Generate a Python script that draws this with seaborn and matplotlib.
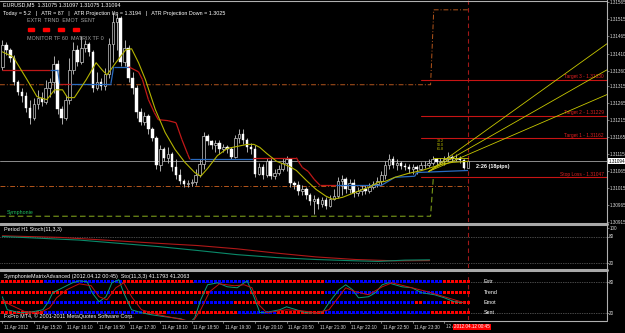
import matplotlib
matplotlib.use("Agg")
import matplotlib.pyplot as plt
import matplotlib.transforms as mtransforms
from matplotlib.patches import Rectangle
import numpy as np
import pandas as pd
import seaborn as sns

sns.set_theme(style="dark")
plt.rcParams['font.family'] = ['Liberation Sans Narrow', 'Liberation Sans', 'DejaVu Sans']

# ---------------- data ----------------
first_open = 1.31373
close = [1.31438, 1.31423, 1.31399, 1.31329, 1.31300, 1.31288, 1.31252, 1.31223, 1.31264, 1.31282,
         1.31270, 1.31311, 1.31329, 1.31382, 1.31247, 1.31223, 1.31276, 1.31364, 1.31423, 1.31388,
         1.31429, 1.31441, 1.31417, 1.31311, 1.31329, 1.31317, 1.31352, 1.31441, 1.31505, 1.31517,
         1.31388, 1.31429, 1.31341, 1.31311, 1.31241, 1.31211, 1.31229, 1.31188, 1.31164, 1.31082,
         1.31129, 1.31105, 1.31117, 1.31076, 1.31053, 1.31035, 1.31026, 1.31029, 1.31032, 1.31055,
         1.31085, 1.31170, 1.31153, 1.31141, 1.31147, 1.31129, 1.31135, 1.31129, 1.31108, 1.31164,
         1.31176, 1.31158, 1.31135, 1.31129, 1.31058, 1.31076, 1.31053, 1.31094, 1.31050, 1.31061,
         1.31070, 1.31088, 1.31100, 1.31029, 1.31023, 1.31006, 1.31011, 1.30994, 1.30976, 1.30982,
         1.30967, 1.30979, 1.30961, 1.30982, 1.30991, 1.31035, 1.31041, 1.31011, 1.31029, 1.31000,
         1.31006, 1.31011, 1.31006, 1.31017, 1.31026, 1.31035, 1.31053, 1.31082, 1.31100, 1.31082,
         1.31088, 1.31079, 1.31076, 1.31070, 1.31076, 1.31070, 1.31082, 1.31082, 1.31088, 1.31100,
         1.31091, 1.31094, 1.31100, 1.31108, 1.31100, 1.31105, 1.31097, 1.31075, 1.31094]
high = [1.31452, 1.31447, 1.31429, 1.31408, 1.31335, 1.31311, 1.31300, 1.31276, 1.31282, 1.31305,
        1.31300, 1.31335, 1.31341, 1.31405, 1.31394, 1.31258, 1.31291, 1.31399, 1.31447, 1.31438,
        1.31464, 1.31452, 1.31447, 1.31423, 1.31358, 1.31341, 1.31370, 1.31458, 1.31535, 1.31529,
        1.31523, 1.31452, 1.31438, 1.31358, 1.31320, 1.31252, 1.31241, 1.31235, 1.31194, 1.31170,
        1.31141, 1.31135, 1.31135, 1.31123, 1.31100, 1.31070, 1.31041, 1.31038, 1.31041, 1.31070,
        1.31100, 1.31182, 1.31176, 1.31158, 1.31158, 1.31158, 1.31144, 1.31141, 1.31135, 1.31173,
        1.31188, 1.31188, 1.31164, 1.31147, 1.31141, 1.31088, 1.31085, 1.31105, 1.31105, 1.31070,
        1.31082, 1.31105, 1.31111, 1.31100, 1.31035, 1.31035, 1.31023, 1.31017, 1.31000, 1.30994,
        1.30988, 1.30988, 1.30988, 1.30994, 1.31011, 1.31047, 1.31053, 1.31047, 1.31041, 1.31041,
        1.31017, 1.31023, 1.31023, 1.31029, 1.31035, 1.31047, 1.31064, 1.31094, 1.31117, 1.31111,
        1.31100, 1.31094, 1.31088, 1.31085, 1.31085, 1.31082, 1.31091, 1.31094, 1.31100, 1.31111,
        1.31105, 1.31103, 1.31111, 1.31123, 1.31114, 1.31117, 1.31111, 1.31100, 1.31097]
low = [1.31364, 1.31408, 1.31388, 1.31320, 1.31291, 1.31270, 1.31241, 1.31205, 1.31217, 1.31247,
       1.31258, 1.31264, 1.31285, 1.31297, 1.31235, 1.31205, 1.31217, 1.31264, 1.31352, 1.31376,
       1.31382, 1.31417, 1.31405, 1.31300, 1.31305, 1.31305, 1.31305, 1.31341, 1.31388, 1.31423,
       1.31376, 1.31376, 1.31329, 1.31294, 1.31223, 1.31200, 1.31200, 1.31176, 1.31153, 1.31070,
       1.31064, 1.31094, 1.31088, 1.31064, 1.31041, 1.31026, 1.31017, 1.31017, 1.31020, 1.31023,
       1.31047, 1.31070, 1.31141, 1.31129, 1.31123, 1.31117, 1.31123, 1.31120, 1.31100, 1.31105,
       1.31147, 1.31144, 1.31123, 1.31117, 1.31047, 1.31053, 1.31041, 1.31047, 1.31041, 1.31041,
       1.31053, 1.31064, 1.31064, 1.31017, 1.31011, 1.30994, 1.30994, 1.30982, 1.30964, 1.30938,
       1.30953, 1.30958, 1.30953, 1.30958, 1.30979, 1.30985, 1.30994, 1.31000, 1.31000, 1.30988,
       1.30991, 1.30994, 1.30997, 1.31000, 1.31011, 1.31017, 1.31023, 1.31041, 1.31070, 1.31073,
       1.31067, 1.31070, 1.31067, 1.31061, 1.31058, 1.31058, 1.31067, 1.31073, 1.31076, 1.31082,
       1.31082, 1.31085, 1.31082, 1.31094, 1.31091, 1.31094, 1.31088, 1.31070, 1.31075]

# moving average (yellow)
ma_idx = [0, 2.75, 6.25, 8.75, 11.25, 13.25, 15.25, 16.5, 18.25, 21.25, 23.75, 25.25, 26.5, 28.75,
          31.25, 32.75, 34.5, 36.25, 38.75, 41.25, 43.75, 46.25, 48.75, 50.25, 52, 54.5, 57, 59.5,
          62, 63.75, 65.25, 67, 69.5, 72.75, 74.5, 77, 79.5, 82, 83.75, 86.25, 89.5, 92.75, 95.25,
          97, 99.5, 102.75, 106.25, 108.75, 111.25, 114, 118]
ma_val = [1.31417, 1.31402, 1.31335, 1.31285, 1.31276, 1.31305, 1.31305, 1.31282, 1.31282, 1.31335,
          1.31385, 1.31364, 1.31349, 1.31385, 1.31423, 1.31426, 1.31385, 1.31335, 1.31247, 1.31179,
          1.31129, 1.31091, 1.31061, 1.31050, 1.31073, 1.31111, 1.31132, 1.31138, 1.31144, 1.31144,
          1.31135, 1.31117, 1.31094, 1.31079, 1.31067, 1.31038, 1.31011, 1.30991, 1.30982, 1.30988,
          1.31003, 1.31017, 1.31032, 1.31035, 1.31047, 1.31058, 1.31067, 1.31076, 1.31085, 1.31091,
          1.31094]

# trailing line (red above price / blue below price)
trail_idx = [0, 12, 14, 14.5, 17.5, 27.5, 28.2, 32, 34.5, 35.5, 37, 38.5, 39.5, 42, 44, 45.5, 47,
             47.5, 63.5, 63.5, 74.5, 75, 76, 77.5, 79, 80.5, 84.5, 96, 99.5, 104.5, 105, 118]
trail_val = [1.31364, 1.31364, 1.31364, 1.31323, 1.31323, 1.31323, 1.31373, 1.31373, 1.31358,
             1.31335, 1.31276, 1.31238, 1.31217, 1.31214, 1.31208, 1.31158, 1.31114, 1.31100,
             1.31100, 1.31105, 1.31105, 1.31094, 1.31076, 1.31064, 1.31041, 1.31023, 1.31023,
             1.31023, 1.31047, 1.31050, 1.31061, 1.31067]
trail_col = "rbbrbbbrrrrrrrrrrbrrrrrrrrbbbbb"

bid = 1.31094
atr_up_1, atr_up_2, atr_down = 1.31320, 1.31541, 1.31020
sym_low, sym_stop = 1.30932, 1.31047
targets = [("Target 3 - 1.31330", 1.31335), ("Target 2 - 1.31229", 1.31229),
           ("Target 1 - 1.31162", 1.31162), ("Stop Loss - 1.31047", 1.31047)]
fan_origin = (108, 1.31064)
fan_end_vals = [1.31441, 1.31364, 1.31291]
last_bar = 118
price_ticks = [1.31565, 1.31515, 1.31465, 1.31410, 1.31360, 1.31315, 1.31265, 1.31215,
               1.31165, 1.31115, 1.31065, 1.31015, 1.30965, 1.30915]

# H1 stochastic
st_red_idx = [0, 14.5, 24.5, 39.5, 49.5, 59.5, 69.5, 79.5, 89.5, 99.5, 108.25]
st_red_val = [81.5, 78, 72.6, 64.4, 59.3, 51.8, 42, 33.3, 27.4, 24.4, 25]
st_grn_idx = [0, 9.5, 19.5, 29.5, 39.5, 49.5, 59.5, 69.5, 79.5, 89.5, 95.25, 102, 108.25]
st_grn_val = [80, 76, 71.8, 64.4, 57, 48, 38.5, 31.8, 27.4, 24.4, 23, 26, 26.7]

# Symphonie matrix oscillator
sy_grn_idx = [0, 1.25, 4.5, 7.75, 10.25, 11.5, 12.75, 15.25, 17.75, 19.5, 21.5, 22.75, 24.5, 26.25,
              27.75, 29.5, 30.75, 32.75, 35.25, 37.75, 41.25, 45.25, 47.5, 48.75, 50.25, 52, 54.5,
              57, 59.5, 61.25, 62, 63.75, 65.25, 67.75, 70.25, 72, 74.5, 77, 79.5, 81.25, 82.75,
              85.25, 87, 88.75, 90.25, 92.75, 94.5, 96.25, 97.75, 101.25, 103.75, 106.25, 109.5,
              112, 114.5, 117]
sy_grn_val = [51, 25.8, 20, 22, 25.8, 39.4, 58.7, 68.4, 78, 81.9, 80, 58.7, 41.3, 51, 78, 83.9,
              58.7, 25.8, 20, 16.2, 12.3, 8.4, 0.7, 10.4, 45.2, 74.2, 78, 70.3, 68.4, 78, 81.9, 51,
              20, 22, 25.8, 31.6, 25.8, 20, 20, 22, 39.4, 64.5, 74.2, 64.5, 49, 51, 58.7, 74.2, 78,
              70.3, 68.4, 58.7, 54.9, 49, 41.3, 39.4]
sy_red_idx = [0, 2, 5.75, 9.5, 12, 13.75, 16.25, 19.5, 22.5, 24.5, 26.5, 28.75, 30.75, 32.75,
              35.25, 39.5, 44.5, 48.25, 50.25, 52.5, 55, 58.75, 61.25, 63.25, 65, 67, 72, 75.75,
              79.5, 82.75, 87, 89.5, 92.75, 96.25, 98.75, 103.75, 107.75, 112, 117]
sy_red_val = [45.2, 35.5, 22, 20, 29.7, 49, 64.5, 76.1, 72.3, 51, 45.2, 68.4, 78, 51, 25.8, 16.2,
              8.4, 2.6, 25.8, 60.7, 76.1, 72.3, 74.2, 68.4, 35.5, 20, 25.8, 23.9, 20, 25.8, 68.4,
              60.7, 54.9, 70.3, 78, 68.4, 60.7, 51, 39.4]
# matrix rows: run lengths of red / blue squares per bar
row_names = ["Extr", "Trend", "Emot", "Sent"]
row_levels = [80, 60, 40, 20]
row_runs = [
    [("r", 11), ("b", 20), ("r", 18), ("b", 14), ("r", 19), ("b", 30), ("r", 7)],
    [("r", 17), ("b", 11), ("r", 25), ("b", 10), ("r", 19), ("b", 30), ("r", 7)],
    [("r", 11), ("b", 17), ("r", 21), ("b", 10), ("r", 22), ("b", 24), ("r", 2), ("b", 5), ("r", 7)],
    [("r", 11), ("b", 25), ("r", 6), ("b", 6), ("r", 12), ("b", 10), ("r", 12), ("b", 27), ("r", 10)],
]
time_labels = ["11 Apr 2012", "11 Apr 15:20", "11 Apr 16:10", "11 Apr 16:50", "11 Apr 17:30",
               "11 Apr 18:10", "11 Apr 18:50", "11 Apr 19:30", "11 Apr 20:10", "11 Apr 20:50",
               "11 Apr 21:30", "11 Apr 22:10", "11 Apr 22:50", "11 Apr 23:30", "12 A"]
time_label_idx = [0, 8, 16, 24, 32, 40, 48, 56, 64, 72, 80, 88, 96, 104, 112]

# ---------------- figure ----------------
W, H = 625, 333
fig = plt.figure(figsize=(W / 100, H / 100), dpi=100, facecolor="black")


def fy(p):
    return 1 - p / H


def fx(p):
    return p / W


RIGHT = 607
XMAX = 153.2
ax_m = fig.add_axes([0, fy(222), fx(RIGHT), 222 / H])
ax_s = fig.add_axes([0, fy(268), fx(RIGHT), 42 / H])
ax_y = fig.add_axes([0, fy(320), fx(RIGHT), 47 / H])

LBL = "#d8d8d8"
FS = 3.9
FSA = 3.3
for ax in (ax_m, ax_s, ax_y):
    ax.set_facecolor("black")
    ax.set_xlim(-0.6, XMAX)
    ax.grid(False)
    for sp in ax.spines.values():
        sp.set_visible(False)
    ax.set_xticks([])
    ax.yaxis.tick_right()
    ax.tick_params(axis="y", colors="#a0a0a0", labelcolor=LBL, labelsize=FSA, length=1.2, pad=0.4,
                   width=0.5)
    ax.axvline(last_bar, color="#a01818", lw=0.8, ls=(0, (4, 3)), zorder=1)

# ---- main price panel ----
ax_m.set_ylim(1.30917, 1.31570)
ax_m.set_yticks(price_ticks)
ax_m.set_yticklabels([f"{v:.5f}" for v in price_ticks])

opens = [first_open] + close[:-1]
idx = np.arange(len(close))
ax_m.vlines(idx, low, high, color="#c8c8c8", lw=0.6, zorder=3)
for i, (o, c) in enumerate(zip(opens, close)):
    bottom = min(o, c)
    hgt = max(abs(c - o), 0.000012)
    if c < o:
        ax_m.bar(i, hgt, bottom=bottom, width=0.65, color="white", edgecolor="white", lw=0.3, zorder=4)
    else:
        ax_m.bar(i, hgt, bottom=bottom, width=0.65, color="black", edgecolor="#c8c8c8", lw=0.5, zorder=4)

# bid line
ax_m.axhline(bid, color="#8c8c8c", lw=0.7, zorder=2)
# ATR projection lines (dash-dot orange)
ax_m.plot([-0.6, 108.5, 109.3, last_bar], [atr_up_1, atr_up_1, atr_up_2, atr_up_2],
          color="#b5561c", lw=0.7, ls=(0, (5, 2, 1, 2)), zorder=2)
ax_m.plot([-0.6, last_bar], [atr_down, atr_down], color="#b5561c", lw=0.7,
          ls=(0, (5, 2, 1, 2)), zorder=2)
# Symphonie lower dashed line
ax_m.plot([-0.6, 108.5, 109.2], [sym_low, sym_low, sym_stop], color="#7a9a1a", lw=0.8,
          ls=(0, (5, 3)), zorder=2)
ax_m.text(1, sym_low + 0.00004, "Symphonie", color="#20c060", fontsize=3.8, va="bottom")

# trailing line
for k in range(len(trail_idx) - 1):
    col = "#c01818" if trail_col[k] == "r" else "#2a6bc0"
    ax_m.plot(trail_idx[k:k + 2], trail_val[k:k + 2], color=col, lw=0.9, zorder=5,
              solid_capstyle="butt")

# yellow MA
sns.lineplot(x=ma_idx, y=ma_val, ax=ax_m, color="#b4b400", lw=0.8, zorder=6, legend=False)

# targets
for name, val in targets:
    ax_m.plot([106, XMAX], [val, val], color="#c81414", lw=0.8, zorder=2)
    ax_m.text(152.4, val + 0.00001, name, color="#e02020", fontsize=3.5, ha="right", va="bottom")

# fan lines
for v in fan_end_vals:
    ax_m.plot([fan_origin[0], XMAX], [fan_origin[1], v], color="#c8c800", lw=0.6, zorder=6)
ax_m.plot([109, last_bar], [1.31105, 1.31105], color="#c8c800", lw=0.6, zorder=6)
ax_m.text(110, 1.31125, "38.2\n50.0\n61.8", color="#c8c800", fontsize=2.6, linespacing=0.9,
          va="bottom")
ax_m.text(120, 1.31078, "2:26 (18pips)", color="white", fontsize=4.0, fontweight="bold",
          va="center")

# current price tag
trans = mtransforms.blended_transform_factory(ax_m.transAxes, ax_m.transData)
ax_m.text(1.003, bid, "1.31094", transform=trans, fontsize=FSA, color="black", va="center",
          ha="left", bbox=dict(boxstyle="square,pad=0.1", fc="white", ec="none"), zorder=10,
          clip_on=False)

# header
fig.text(fx(3), fy(5), "EURUSD,M5  1.31075 1.31097 1.31075 1.31094", color="white", fontsize=FS,
         va="center")
fig.text(fx(3), fy(13), "Today = 5.2   |   ATR = 87   |   ATR Projection Up = 1.3194   |   "
         "ATR Projection Down = 1.3025", color="white", fontsize=FS, va="center")
fig.text(fx(27), fy(20), "EXTR  TRND  EMOT  SENT", color="#a0a0a0", fontsize=FS, va="center")
for xp in (28, 43, 58, 73):
    fig.patches.append(Rectangle((fx(xp), fy(31)), fx(6), 3 / H, transform=fig.transFigure,
                                 color="#ff0000"))
fig.text(fx(27), fy(39), "MONITOR TF 60  MATRIX TF 0", color="#a0a0a0", fontsize=FS, va="center")

# ---- H1 stochastic panel ----
ax_s.set_ylim(8, 104)
ax_s.set_yticks([100, 80, 20])
ax_s.set_yticklabels(["100", "80", "20"])
for lv in (80, 20):
    ax_s.axhline(lv, color="#909090", lw=0.5, ls=(0, (1, 1.5)))
sns.lineplot(x=st_red_idx, y=st_red_val, ax=ax_s, color="#b01818", lw=0.8, legend=False)
sns.lineplot(x=st_grn_idx, y=st_grn_val, ax=ax_s, color="#0a8a6a", lw=0.8, legend=False)
ax_s.text(0.5, 101, "Period H1 Stoch(11,3,3)", color="white", fontsize=FS, va="top")

# ---- Symphonie matrix panel ----
ax_y.set_ylim(6, 97)
ax_y.set_yticks([80, 20])
ax_y.set_yticklabels(["80", "20"])
for lv in (80, 20):
    ax_y.axhline(lv, color="#909090", lw=0.5, ls=(0, (1, 1.5)))
rows = []
for lvl, runs in zip(row_levels, row_runs):
    start = 0
    for col, n in runs:
        for b in range(start, start + n):
            rows.append({"bar": b, "level": lvl, "col": col})
        start += n
df_sq = pd.DataFrame(rows)
sns.scatterplot(data=df_sq, x="bar", y="level", hue="col", palette={"r": "#ff0000", "b": "#0000ff"},
                marker="s", s=4.5, linewidth=0, ax=ax_y, legend=False, zorder=3)
sns.lineplot(x=sy_grn_idx, y=sy_grn_val, ax=ax_y, color="#0a9a7a", lw=0.7, legend=False, zorder=4)
sns.lineplot(x=sy_red_idx, y=sy_red_val, ax=ax_y, color="#c01010", lw=0.7, legend=False, zorder=4)
for nm, lvl in zip(row_names, row_levels):
    ax_y.text(last_bar + 4, lvl, nm, color="white", fontsize=FS, va="center")
ax_y.text(0.5, 96, "SymphonieMatrixAdvanced (2012.04.12 00:45)  Sto(11,3,3) 41.1793 41.2063",
          color="white", fontsize=FS, va="top")
ax_y.text(0.5, 7, "FxPro MT4, \u00a9 2001-2011 MetaQuotes Software Corp.", color="white",
          fontsize=FS, va="bottom")
for a in (ax_m, ax_s, ax_y):
    a.set_xlabel("")
    a.set_ylabel("")

# separators & frame
for yy in (223.5, 269.5):
    fig.add_artist(plt.Line2D([0, fx(RIGHT)], [fy(yy), fy(yy)], color="#a8a8a8", lw=2.2))
fig.add_artist(plt.Line2D([fx(RIGHT), fx(RIGHT)], [fy(0), fy(320)], color="#b0b0b0", lw=0.8))
fig.add_artist(plt.Line2D([0, fx(RIGHT)], [fy(0.5), fy(0.5)], color="#b0b0b0", lw=0.8))
fig.add_artist(plt.Line2D([0, fx(RIGHT)], [fy(320.5), fy(320.5)], color="#b0b0b0", lw=0.8))

# time axis
xt = mtransforms.blended_transform_factory(ax_y.transData, fig.transFigure)
for lab, bi in zip(time_labels, time_label_idx):
    ax_y.plot([bi, bi], [fy(320.5), fy(323)], transform=xt, color="#b0b0b0", lw=0.5, clip_on=False)
    ax_y.text(bi + 0.4, fy(327), lab, transform=xt, color=LBL, fontsize=FSA, va="center",
              ha="left", clip_on=False)
ax_y.text(last_bar - 3.6, fy(327), "2012.04.12 00:45", transform=xt, color="white", fontsize=FSA,
          va="center", ha="left", clip_on=False, zorder=20,
          bbox=dict(boxstyle="square,pad=0.2", fc="#ff0000", ec="none"))

fig.savefig("out.png", dpi=100, facecolor="black")
